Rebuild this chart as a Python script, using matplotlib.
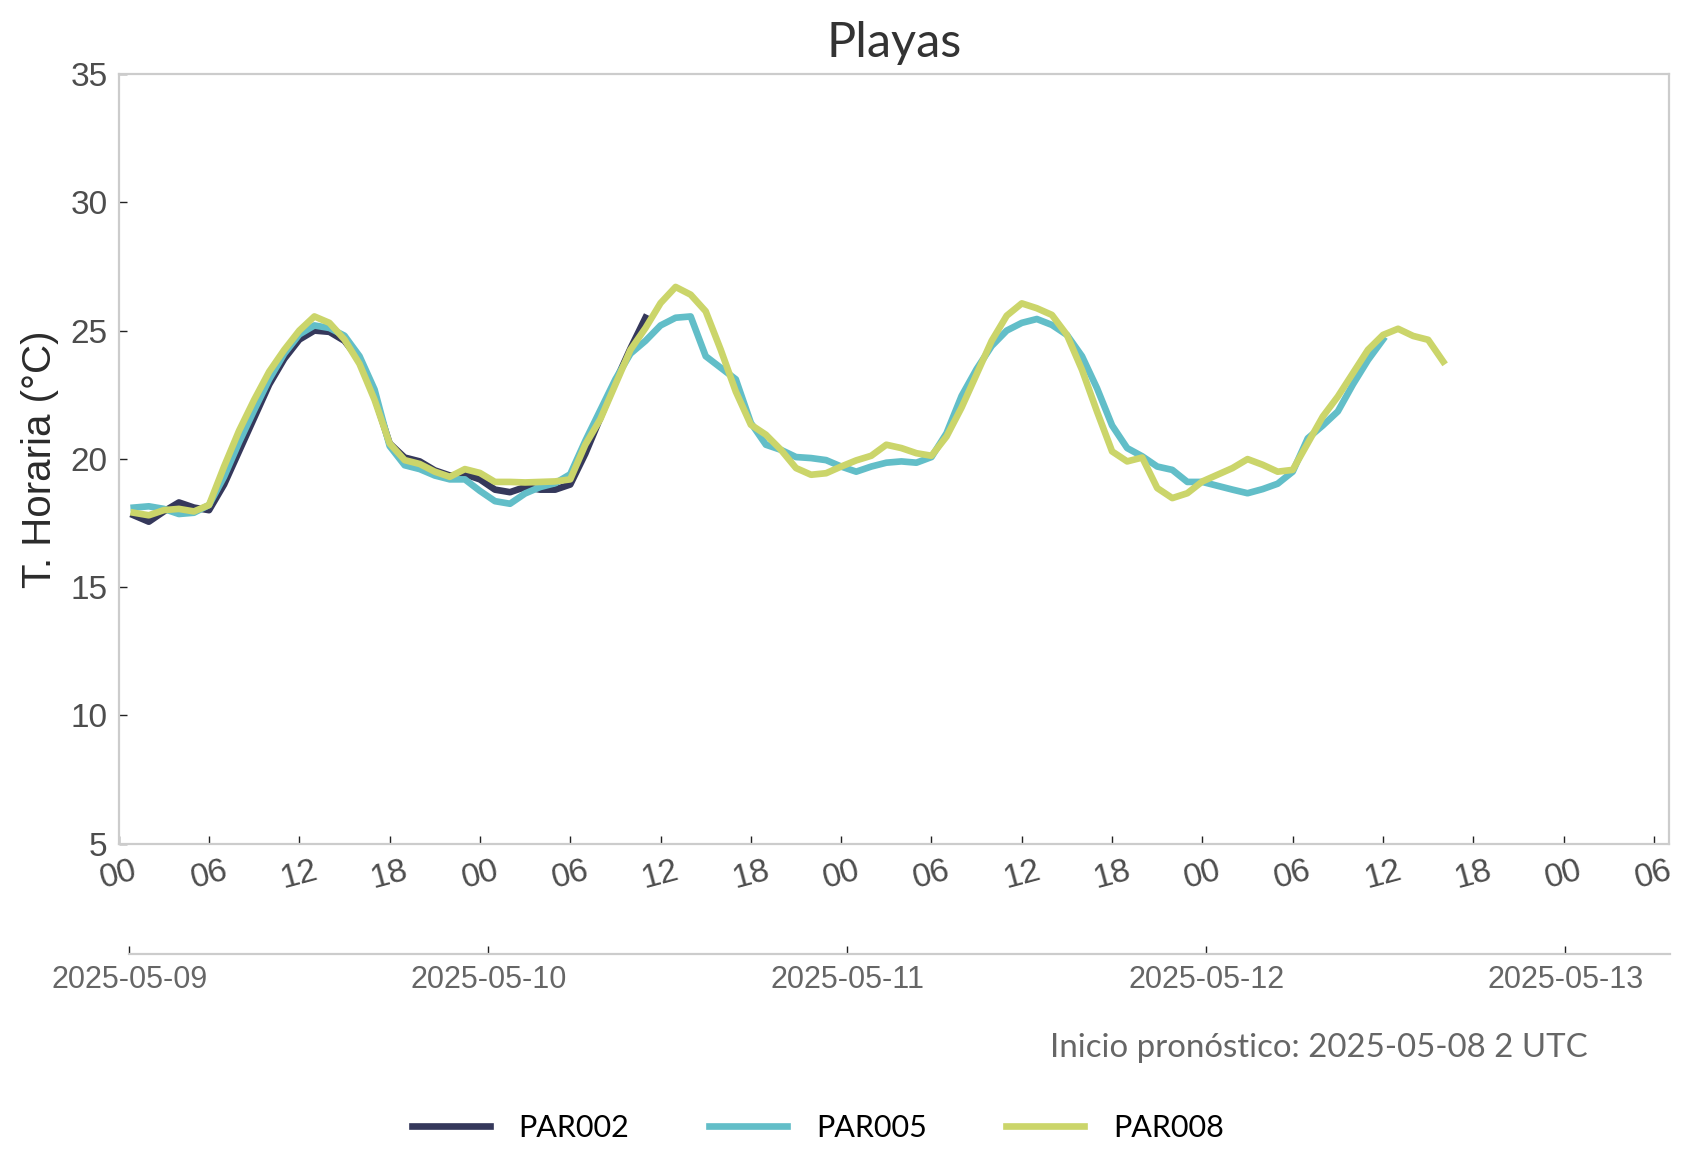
import matplotlib
matplotlib.use('Agg')
import matplotlib.pyplot as plt
import matplotlib.dates as mdates
import pandas as pd

plt.rcParams['font.family'] = ['Liberation Sans', 'DejaVu Sans']

# temperatura horaria por estación (°C), desde 2025-05-09 01:00
par002 = [17.8, 17.55, 17.95, 18.3, 18.1, 18.0, 19.0, 20.3, 21.6, 22.9, 23.9, 24.65,
          25.0, 24.95, 24.6, 23.85, 22.4, 20.6, 20.05, 19.9, 19.55, 19.35, 19.4, 19.2,
          18.8, 18.7, 18.9, 18.8, 18.8, 19.0, 20.2, 21.6, 23.0, 24.3, 25.5]
par005 = [18.1, 18.15, 18.05, 17.85, 17.9, 18.2, 19.3, 20.65, 21.9, 23.1, 24.1, 24.85,
          25.2, 25.1, 24.8, 24.0, 22.7, 20.5, 19.75, 19.6, 19.35, 19.2, 19.2, 18.75,
          18.35, 18.25, 18.65, 18.9, 19.05, 19.4, 20.7, 21.9, 23.1, 24.1, 24.6, 25.2,
          25.5, 25.55, 24.0, 23.55, 23.1, 21.4, 20.55, 20.35, 20.07, 20.03, 19.95, 19.7,
          19.5, 19.7, 19.85, 19.9, 19.85, 20.07, 21.0, 22.45, 23.5, 24.4, 25.0, 25.3,
          25.45, 25.22, 24.83, 24.0, 22.75, 21.3, 20.42, 20.1, 19.7, 19.57, 19.1, 19.1,
          18.95, 18.8, 18.66, 18.82, 19.03, 19.5, 20.8, 21.3, 21.85, 22.9, 23.85, 24.65]
par008 = [17.9, 17.8, 18.0, 18.05, 17.95, 18.2, 19.7, 21.1, 22.3, 23.4, 24.25, 25.0,
          25.55, 25.3, 24.65, 23.7, 22.3, 20.6, 19.95, 19.8, 19.5, 19.3, 19.6, 19.45,
          19.1, 19.1, 19.08, 19.1, 19.12, 19.2, 20.55, 21.55, 22.9, 24.25, 25.1, 26.07,
          26.7, 26.4, 25.75, 24.25, 22.62, 21.33, 20.94, 20.35, 19.64, 19.38, 19.44, 19.7,
          19.94, 20.12, 20.55, 20.42, 20.22, 20.12, 20.87, 22.0, 23.3, 24.6, 25.58, 26.06,
          25.87, 25.61, 24.83, 23.47, 21.84, 20.29, 19.9, 20.05, 18.86, 18.47, 18.66, 19.12,
          19.38, 19.64, 19.99, 19.77, 19.5, 19.57, 20.61, 21.65, 22.43, 23.34, 24.25, 24.83,
          25.07, 24.79, 24.64, 23.79]

estaciones = ['PAR002', 'PAR005', 'PAR008']
series = [par002, par005, par008]
colores = ['#35385b', '#62bec8', '#cbd56a']
inicio = pd.Timestamp('2025-05-09 01:00')

fig = plt.figure(figsize=(8.475, 5.88), dpi=200)
ax = fig.add_axes([0.07003, 0.28257, 0.91463, 0.65451])

for nombre, valores, c in zip(estaciones, series, colores):
    t = pd.date_range(inicio, periods=len(valores), freq='h')
    ax.plot(t, valores, color=c, lw=2.4, label=nombre)

ax.set_xlim(pd.Timestamp('2025-05-09 00:00'), pd.Timestamp('2025-05-13 07:00'))
ax.set_ylim(5, 35)
ax.set_yticks(range(5, 36, 5))
ax.xaxis.set_major_locator(mdates.HourLocator(byhour=[0, 6, 12, 18]))
ax.xaxis.set_major_formatter(mdates.DateFormatter('%H'))
ax.tick_params(axis='both', direction='in', length=2.9, width=0.5, color='#222222',
               labelsize=12, labelcolor='#4d4d4d', pad=4)
plt.setp(ax.get_xticklabels(), rotation=15, ha='center')
for s in ax.spines.values():
    s.set_color('#cccccc')
    s.set_linewidth(0.8)

ax.set_ylabel('T. Horaria (°C)', fontsize=14.5, color='#2b2b2b', labelpad=4)
ax.set_title('Playas', fontsize=17.5, color='#333333', family='Lato', pad=6)

# eje secundario con las fechas
ax2 = fig.add_axes([0.07628, 0.18903, 0.90896, 0.0001])
ax2.set_xlim(pd.Timestamp('2025-05-09 00:00'), pd.Timestamp('2025-05-13 07:00'))
ax2.patch.set_alpha(0)
ax2.yaxis.set_visible(False)
for k in ['top', 'left', 'right']:
    ax2.spines[k].set_visible(False)
ax2.spines['bottom'].set_color('#cccccc')
ax2.spines['bottom'].set_linewidth(0.8)
ax2.xaxis.set_major_locator(mdates.DayLocator())
ax2.xaxis.set_major_formatter(mdates.DateFormatter('%Y-%m-%d'))
ax2.tick_params(axis='x', direction='in', length=2.9, width=0.5, color='#222222',
                labelsize=11, labelcolor='#666666', pad=4)

fig.text(0.6195, 0.1088, 'Inicio pronóstico: 2025-05-08 2 UTC', ha='left', va='center',
         family='Lato', fontsize=11.9, color='#666666')

fig.legend(loc='center', bbox_to_anchor=(0.4825, 0.041), ncol=3, frameon=False,
           handlelength=2.55, handletextpad=0.95, columnspacing=2.6,
           prop={'family': 'Lato', 'size': 11})

fig.savefig('out.png', dpi=200)
